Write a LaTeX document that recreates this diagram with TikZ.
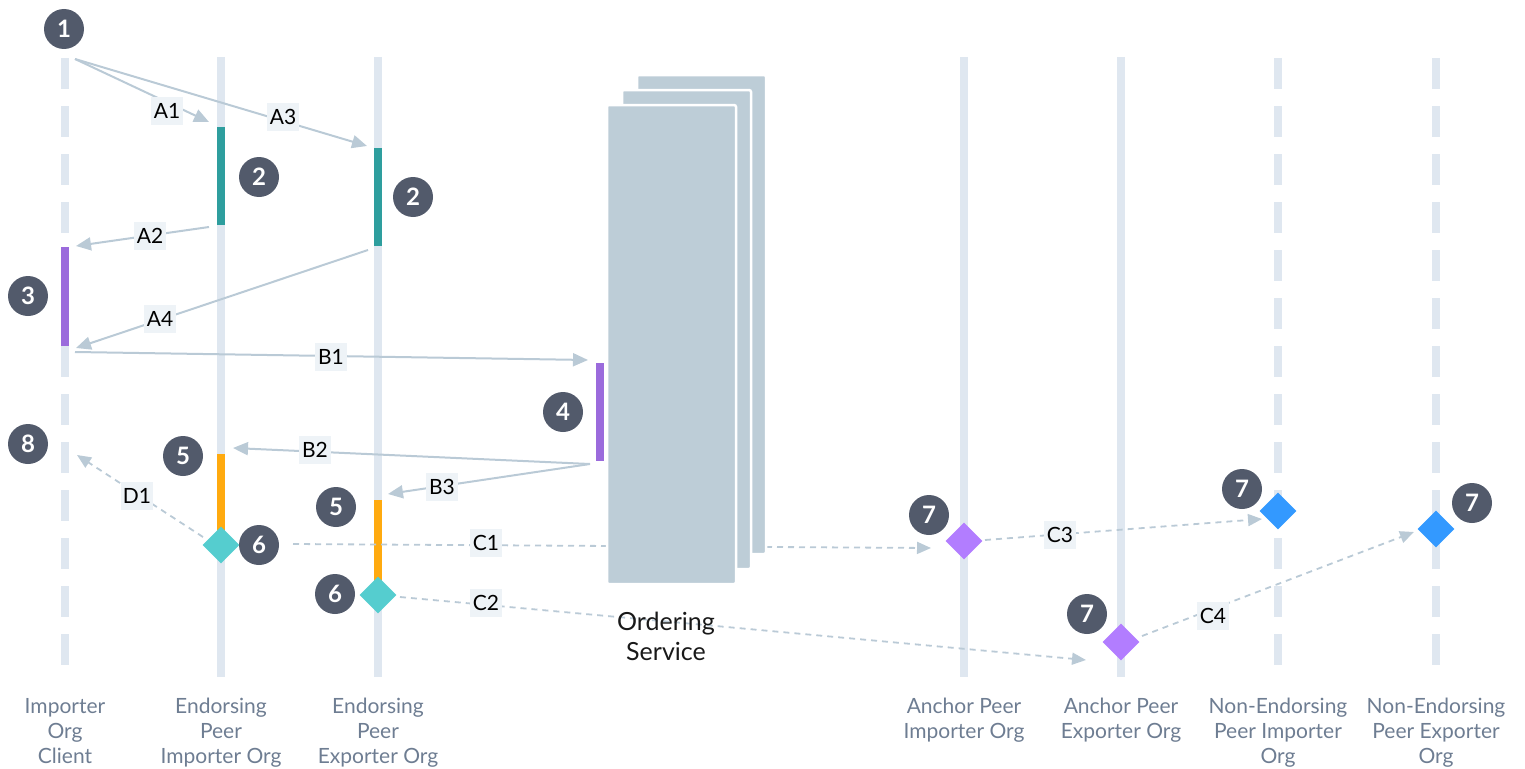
\documentclass[tikz,border=0pt]{standalone}
\usepackage{fontspec}
\setmainfont{Lato}
\usetikzlibrary{arrows.meta,shapes.geometric}
\definecolor{lifec}{HTML}{DFE7F0}
\definecolor{arrc}{HTML}{BACAD6}
\definecolor{lblbg}{HTML}{EEF3F7}
\definecolor{badgec}{HTML}{525A6B}
\definecolor{tealbar}{HTML}{2E9E9E}
\definecolor{purpbar}{HTML}{9B6BDC}
\definecolor{orgbar}{HTML}{FFAA0F}
\definecolor{tealdia}{HTML}{55CDCF}
\definecolor{purpdia}{HTML}{B27DFF}
\definecolor{bluedia}{HTML}{3399FF}
\definecolor{ordc}{HTML}{BDCDD7}
\definecolor{footc}{HTML}{6E7D92}
\begin{document}
\begin{tikzpicture}[x=1pt,y=-1pt,
  solidlife/.style={draw=lifec,line width=8pt},
  dashlife/.style={draw=lifec,line width=8pt,dash pattern=on 31pt off 17pt},
  bar/.style={line width=8pt},
  badge/.style={circle,fill=badgec,text=white,minimum size=40pt,inner sep=0pt,font=\bfseries\fontsize{24}{24}\selectfont},
  lbl/.style={fill=lblbg,minimum width=32pt,minimum height=28pt,inner sep=0pt,text=black,font=\fontsize{21}{21}\selectfont},
  msg/.style={draw=arrc,line width=2pt,-{Triangle[length=15pt,width=13pt]}},
  dmsg/.style={draw=arrc,line width=1.8pt,dash pattern=on 6pt off 5pt,-{Triangle[length=14pt,width=12pt]}},
  dia/.style={diamond,minimum width=37pt,minimum height=37pt,inner sep=0pt},
  foot/.style={align=center,text=footc,anchor=north,inner sep=0pt,font=\fontsize{21}{25}\selectfont},
  ordbox/.style={fill=ordc,draw=white,line width=2.5pt,rounded corners=2pt}
]
\useasboundingbox (0,0) rectangle (1525,768);

% lifelines
\draw[dashlife] (65,58) -- (65,666);
\draw[solidlife] (221,57) -- (221,677);
\draw[solidlife] (378,57) -- (378,677);
\draw[solidlife] (964,57) -- (964,677);
\draw[solidlife] (1121,57) -- (1121,677);
\draw[dashlife] (1278,58) -- (1278,666);
\draw[dashlife] (1436,58) -- (1436,666);

% activation bars
\draw[bar,tealbar] (221,127) -- (221,225);
\draw[bar,tealbar] (378,148) -- (378,246);
\draw[bar,purpbar] (65,247) -- (65,346);
\draw[bar,purpbar] (600,363) -- (600,461);
\draw[bar,orgbar] (221,454) -- (221,545);
\draw[bar,orgbar] (378,500) -- (378,595);

% coordinates
\coordinate (cli) at (75,59);
\coordinate (a1e) at (209,122);
\coordinate (a3e) at (367,146);
\coordinate (a2s) at (209,227);
\coordinate (a2e) at (76,246);
\coordinate (a4s) at (368,250);
\coordinate (a4e) at (76,348);
\coordinate (b1s) at (75,352);
\coordinate (b1e) at (588,360);
\coordinate (ord) at (590,464);
\coordinate (b2e) at (233,448);
\coordinate (b3e) at (388,494);
\coordinate (c1s) at (293,544);
\coordinate (c1e) at (931,548);
\coordinate (c2s) at (400,597);
\coordinate (c2e) at (1086,660);
\coordinate (c3s) at (985,540);
\coordinate (c3e) at (1262,519);
\coordinate (c4s) at (1142,636);
\coordinate (c4e) at (1414,532);
\coordinate (d1s) at (203,537);
\coordinate (d1e) at (77,455);

% C1 passes behind ordering service
\draw[dmsg] (c1s) -- (c1e);

% ordering service
\draw[ordbox] (637,75) rectangle (766,554);
\draw[ordbox] (622,90) rectangle (751,569);
\draw[ordbox] (607,105) rectangle (736,584);

% messages
\draw[msg] (cli) -- (a1e);
\draw[msg] (cli) -- (a3e);
\draw[msg] (a2s) -- (a2e);
\draw[msg] (a4s) -- (a4e);
\draw[msg] (b1s) -- (b1e);
\draw[msg] (ord) -- (b2e);
\draw[msg] (ord) -- (b3e);
\draw[dmsg] (c2s) -- (c2e);
\draw[dmsg] (c3s) -- (c3e);
\draw[dmsg] (c4s) -- (c4e);
\draw[dmsg] (d1s) -- (d1e);

% labels
\node[lbl] (lA1) at (167,111) {A1};
\node[lbl] (lA3) at (283,117) {A3};
\node[lbl] (lA2) at (150,236) {A2};
\node[lbl] (lA4) at (160,319) {A4};
\node[lbl] (lB1) at (331,357) {B1};
\node[lbl] (lB2) at (315,450) {B2};
\node[lbl] (lB3) at (442,487) {B3};
\node[lbl] (lC1) at (486,543) {C1};
\node[lbl] (lC2) at (486,603) {C2};
\node[lbl] (lC3) at (1060,535) {C3};
\node[lbl] (lC4) at (1213,616) {C4};
\node[lbl] (lD1) at (137,496) {D1};

% diamonds
\node[dia,fill=tealdia] (dT1) at (221,545) {};
\node[dia,fill=tealdia] (dT2) at (378,595) {};
\node[dia,fill=purpdia] (dP1) at (964,541) {};
\node[dia,fill=purpdia] (dP2) at (1121,642) {};
\node[dia,fill=bluedia] (dB1) at (1278,511) {};
\node[dia,fill=bluedia] (dB2) at (1436,529) {};

% badges
\node[badge] (n1) at (64,29) {1};
\node[badge] (n2a) at (259,177) {2};
\node[badge] (n2b) at (413,197) {2};
\node[badge] (n3) at (28,296) {3};
\node[badge] (n4) at (563,412) {4};
\node[badge] (n5a) at (183,456) {5};
\node[badge] (n5b) at (336,507) {5};
\node[badge] (n6a) at (259,545) {6};
\node[badge] (n6b) at (335,594) {6};
\node[badge] (n7a) at (929,515) {7};
\node[badge] (n7b) at (1087,614) {7};
\node[badge] (n7c) at (1242,489) {7};
\node[badge] (n7d) at (1472,503) {7};
\node[badge] (n8) at (28,444) {8};

% ordering service text
\node[align=center,text=black!90,font=\fontsize{25}{30}\selectfont] (ordtxt) at (666,636) {Ordering\\Service};

% footer labels
\node[foot] (f1) at (65,698) {Importer\\Org\\Client};
\node[foot] (f2) at (221,698) {Endorsing\\Peer\\Importer Org};
\node[foot] (f3) at (378,698) {Endorsing\\Peer\\Exporter Org};
\node[foot] (f4) at (964,698) {Anchor Peer\\Importer Org};
\node[foot] (f5) at (1121,698) {Anchor Peer\\Exporter Org};
\node[foot] (f6) at (1278,698) {Non-Endorsing\\Peer Importer\\Org};
\node[foot] (f7) at (1436,698) {Non-Endorsing\\Peer Exporter\\Org};
\end{tikzpicture}
\end{document}
